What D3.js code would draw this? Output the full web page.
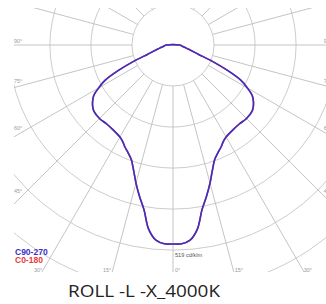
<!DOCTYPE html>
<html>
<head>
<meta charset="utf-8">
<script src="https://cdn.jsdelivr.net/npm/d3@7"></script>
<style>
  body { margin: 0; background: #fff; }
  svg { display: block; }
</style>
</head>
<body>
<svg class="polar" width="326" height="304"></svg>
<script>
// photometric data, gamma angle from nadir (deg) and intensity (cd/klm)
let gammas   = [0, 2.5, 5, 7.5, 10, 12.5, 15, 17.5, 20, 22.5, 25, 27.5, 30, 35, 40, 45,
                50, 52.5, 55, 57.5, 60, 62.5, 65, 67.5, 70, 75, 80, 85, 90];
let c90_270  = [519, 519, 511, 485, 436, 404, 373, 342, 318, 305, 295, 284, 277, 271, 269, 271,
                269, 264, 256, 245, 224, 200, 157, 110, 70, 41, 29, 22, 18];
let c0_180   = [519, 519, 511, 485, 436, 404, 373, 342, 318, 305, 295, 284, 277, 271, 269, 271,
                269, 264, 256, 245, 224, 200, 157, 110, 70, 41, 29, 22, 18];

// grid labels
let leftLabels   = [90, 75, 60, 45];   // on the left edge
let bottomLabels = [-30, -15, 0, 15, 30];
let rightLabels  = [45, 60, 75, 90];
let maxLabel = '519 cd/klm';
let legend = [{name: 'C90-270', color: '#3a30c8'}, {name: 'C0-180', color: '#e83a3a'}];
let title = 'ROLL -L -X_4000K';

// setup parameters
let cx = 173, cy = 45;
let box = {x0: 14, y0: 8, x1: 332, y1: 272}; // visible area of the diagram
let ringStep = 107;  // cd/klm between rings

let rScale = d3.scaleLinear().domain([0, 519]).range([0, 199]);

let svg = d3.select('svg.polar');

svg.append('defs').append('clipPath').attr('id', 'plotClip')
  .append('rect')
  .attr('x', box.x0).attr('y', box.y0)
  .attr('width', box.x1 - box.x0).attr('height', box.y1 - box.y0);

let g = svg.append('g').attr('clip-path', 'url(#plotClip)');

// rings
let rings = d3.range(1, 8).map(k => k * ringStep);
g.selectAll('circle.ring')
  .data(rings)
  .enter()
  .append('circle')
  .attr('class', 'ring')
  .attr('cx', cx).attr('cy', cy)
  .attr('r', d => rScale(d))
  .style('fill', 'none')
  .style('stroke', '#c6c6c6')
  .style('stroke-width', 0.9);

// spokes every 15 deg, starting on the first ring
let spokes = d3.range(0, 360, 15);
let rIn = rScale(ringStep), rOut = 500;
g.selectAll('line.spoke')
  .data(spokes)
  .enter()
  .append('line')
  .attr('class', 'spoke')
  .attr('x1', d => cx + rIn * Math.sin(d * Math.PI / 180))
  .attr('y1', d => cy + rIn * Math.cos(d * Math.PI / 180))
  .attr('x2', d => cx + rOut * Math.sin(d * Math.PI / 180))
  .attr('y2', d => cy + rOut * Math.cos(d * Math.PI / 180))
  .style('stroke', '#bdbdbd')
  .style('stroke-width', 0.9);

// curves: mirror the half plane to both sides
function fullCurve(vals) {
  let right = gammas.map((a, i) => [a, vals[i]]);
  let left = gammas.slice(1).map((a, i) => [-a, vals[i + 1]]).reverse();
  return left.concat(right);
}

let radial = d3.lineRadial()
  .angle(d => Math.PI - d[0] * Math.PI / 180)
  .radius(d => rScale(d[1]))
  .curve(d3.curveCatmullRomClosed);

let curves = g.append('g').attr('transform', `translate(${cx},${cy})`);
curves.append('path')
  .attr('d', radial(fullCurve(c0_180)))
  .style('fill', 'none')
  .style('stroke', legend[1].color)
  .style('stroke-width', 1.6);
curves.append('path')
  .attr('d', radial(fullCurve(c90_270)))
  .style('fill', 'none')
  .style('stroke', legend[0].color)
  .style('stroke-width', 1.6);

// angle labels
function addLabel(x, y, txt, anchor) {
  svg.append('text')
    .attr('x', x).attr('y', y)
    .attr('text-anchor', anchor)
    .style('font-family', 'Liberation Sans, Arial, sans-serif')
    .style('font-size', '5.5px')
    .style('fill', '#9a9a9a')
    .text(txt);
}
let tan = a => Math.tan(a * Math.PI / 180);

leftLabels.forEach(a => {
  let xr = box.x0 + 9;
  let y = cy + (cx - xr) / tan(a);
  addLabel(box.x0, y - 2, a + '°', 'start');
});
rightLabels.forEach(a => {
  let xl = box.x1 - 9;
  let y = cy + (xl - cx) / tan(a);
  addLabel(box.x1, y - 2, a + '°', 'end');
});
bottomLabels.forEach(a => {
  let x = cx + (box.y1 - 4 - cy) * tan(a);
  if (a < 0) addLabel(x - 2, box.y1, Math.abs(a) + '°', 'end');
  else addLabel(x + 2, box.y1, a + '°', 'start');
});

// scale label
svg.append('text')
  .attr('x', cx + 2).attr('y', 257)
  .style('font-family', 'Liberation Sans, Arial, sans-serif')
  .style('font-size', '5.6px')
  .style('fill', '#555')
  .text(maxLabel);

// legend
svg.selectAll('text.legend')
  .data(legend)
  .enter()
  .append('text')
  .attr('class', 'legend')
  .attr('x', 15)
  .attr('y', (d, i) => 255 + i * 8)
  .style('font-family', 'Liberation Sans, Arial, sans-serif')
  .style('font-size', '8.5px')
  .style('font-weight', 'bold')
  .style('fill', d => d.color)
  .text(d => d.name);

// title
svg.append('text')
  .attr('x', 68).attr('y', 296.5)
  .attr('textLength', 152)
  .attr('lengthAdjust', 'spacingAndGlyphs')
  .style('font-family', 'Open Sans, sans-serif')
  .style('font-size', '16px')
  .style('fill', '#222')
  .text(title);
</script>
</body>
</html>
